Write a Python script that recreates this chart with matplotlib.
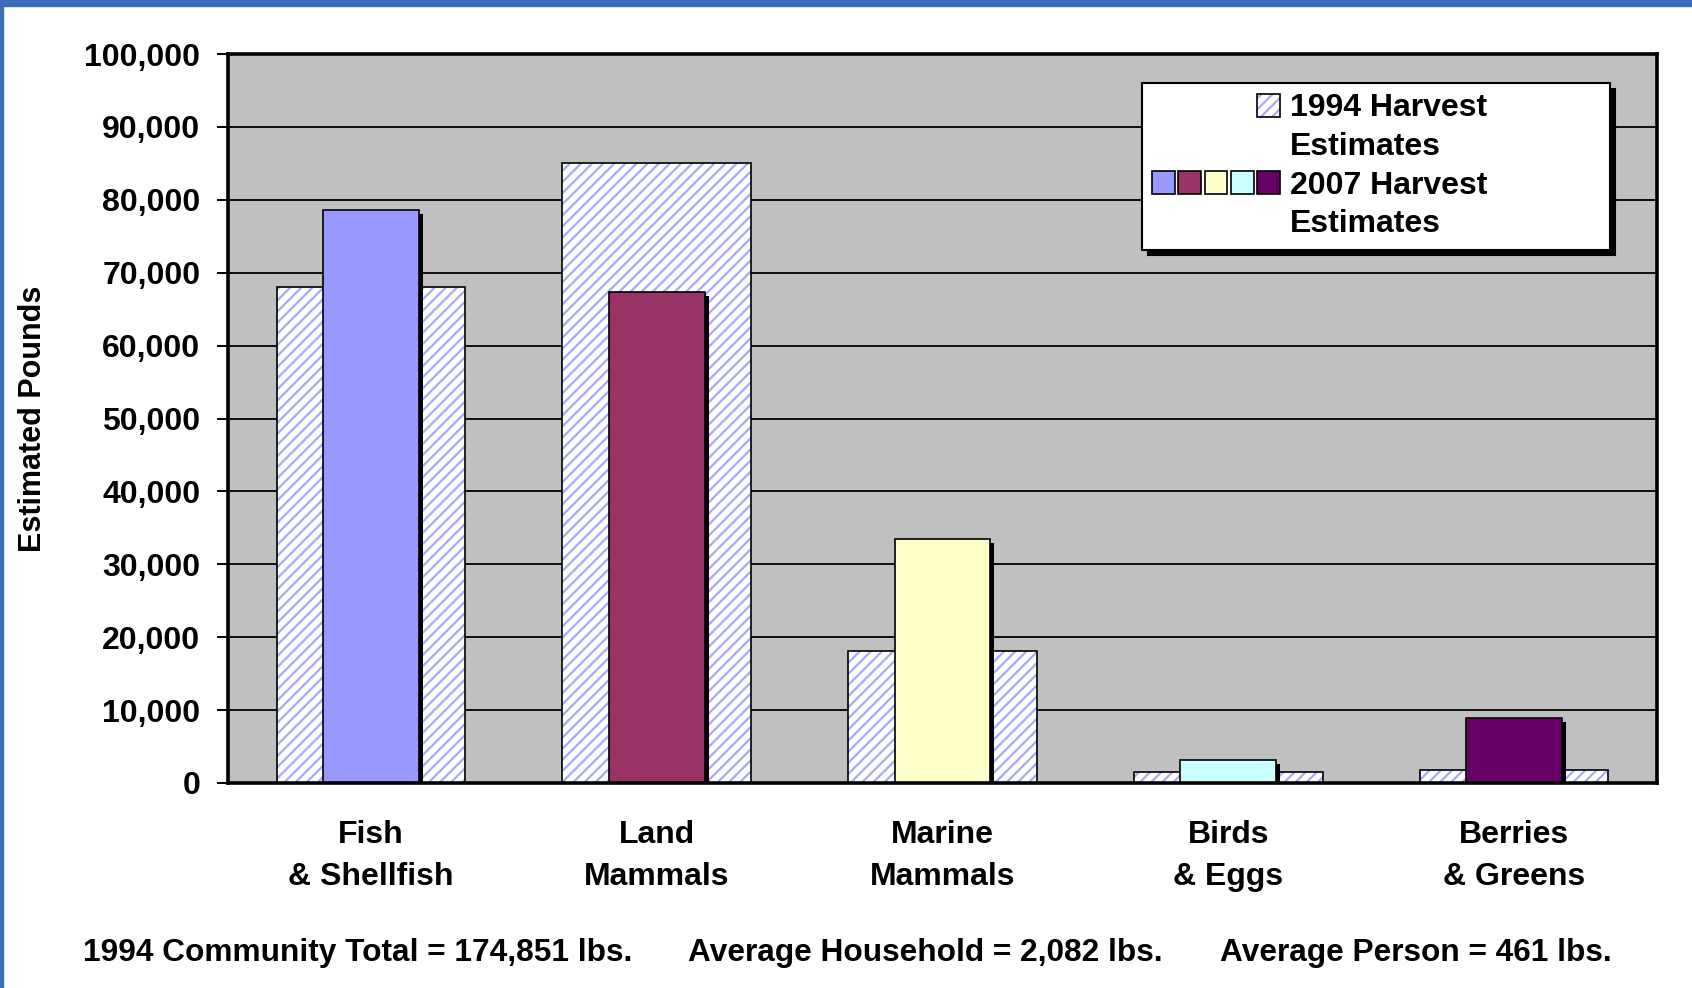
import matplotlib.pyplot as plt
from matplotlib.patches import Patch, Rectangle
from matplotlib.legend_handler import HandlerTuple
from matplotlib.ticker import FuncFormatter
from matplotlib.transforms import offset_copy

categories = ['Fish\n& Shellfish', 'Land\nMammals', 'Marine\nMammals',
              'Birds\n& Eggs', 'Berries\n& Greens']
harvest_1994 = [68050, 85100, 18100, 1530, 1820]
harvest_2007 = [78550, 67300, 33500, 3200, 8900]
colors_2007 = ['#9999FF', '#993366', '#FFFFCC', '#CCFFFF', '#660066']
footer = ['1994 Community Total = 174,851 lbs.',
          'Average Household = 2,082 lbs.',
          'Average Person = 461 lbs.']

plt.rcParams['font.family'] = ['Liberation Sans', 'DejaVu Sans']
plt.rcParams['font.weight'] = 'bold'
plt.rcParams['axes.labelweight'] = 'bold'
plt.rcParams['hatch.color'] = '#A8A8FF'
plt.rcParams['hatch.linewidth'] = 1.6

fig = plt.figure(figsize=(16.92, 9.88), dpi=100)
ax = fig.add_axes([0.1348, 0.2075, 0.8445, 0.7378])
ax.set_facecolor('#C0C0C0')

x = range(len(categories))
# 1994 bars: hatch layer, then black outline
ax.bar(x, harvest_1994, width=0.66, color='white', hatch='///',
       linewidth=0, zorder=2)
ax.bar(x, harvest_1994, width=0.66, fill=False, edgecolor='black',
       linewidth=1.2, zorder=3)
# 2007 bars with a black drop shadow
shadow = offset_copy(ax.transData, fig=fig, x=4, y=-4, units='dots')
ax.bar(x, harvest_2007, width=0.335, color='black', linewidth=0,
       transform=shadow, zorder=4)
ax.bar(x, harvest_2007, width=0.335, color=colors_2007, edgecolor='black',
       linewidth=1.2, zorder=5)

ax.set_xlim(-0.5, len(categories) - 0.5)
ax.set_ylim(0, 100000)
ax.set_yticks(range(0, 100001, 10000))
ax.yaxis.set_major_formatter(FuncFormatter(lambda v, p: '{:,.0f}'.format(v)))
ax.set_xticks(list(x))
ax.set_xticklabels(categories, fontsize=23, linespacing=1.48)
ax.tick_params(axis='x', length=0, pad=27)
ax.tick_params(axis='y', labelsize=23, length=8, width=1.4, pad=12,
               direction='out')
ax.grid(axis='y', color='black', linewidth=1.3)
ax.set_axisbelow(True)
for sp in ax.spines.values():
    sp.set_linewidth(2.6)
    sp.set_zorder(6)
ax.set_ylabel('Estimated Pounds', fontsize=22, labelpad=26)

blank = Patch(facecolor='none', edgecolor='none')
hatched = (Patch(facecolor='white', hatch='///'),
           Patch(facecolor='none', edgecolor='black', linewidth=1.2))
squares = tuple(Patch(facecolor=c, edgecolor='black', linewidth=1.2)
                for c in colors_2007)
handles = [(blank, blank, blank, blank, hatched),
           (blank,) * 5,
           squares,
           (blank,) * 5]
labels = ['1994 Harvest', 'Estimates', '2007 Harvest', 'Estimates']
ax.legend(handles, labels, loc='upper left',
          bbox_to_anchor=(0.6396, 0.7366, 0.3274, 0.2234), mode='expand',
          borderaxespad=0,
          handler_map={tuple: HandlerTuple(ndivide=None, pad=0.11),
                       hatched: HandlerTuple(ndivide=1)},
          handlelength=4.0, handleheight=0.72, handletextpad=0.3,
          labelspacing=0.27, borderpad=0.32, fontsize=23, fancybox=False,
          framealpha=1, edgecolor='black',
          shadow={'ox': 4, 'oy': -4, 'color': 'black', 'alpha': 1})
ax.get_legend().get_frame().set_linewidth(1.5)
ax.get_legend().set_zorder(10)

fx = [0.049, 0.4068, 0.7213]
for xpos, t in zip(fx, footer):
    fig.text(xpos, 0.027, t, fontsize=22.8, ha='left', va='baseline')

# blue frame of the slide
fig.patches.append(Rectangle((0, 0.994), 1, 0.006, transform=fig.transFigure,
                             color='#3D6CB9', zorder=0))
fig.patches.append(Rectangle((0, 0), 0.0015, 1, transform=fig.transFigure,
                             color='#3D6CB9', zorder=0))

fig.savefig('out.png', dpi=100)
